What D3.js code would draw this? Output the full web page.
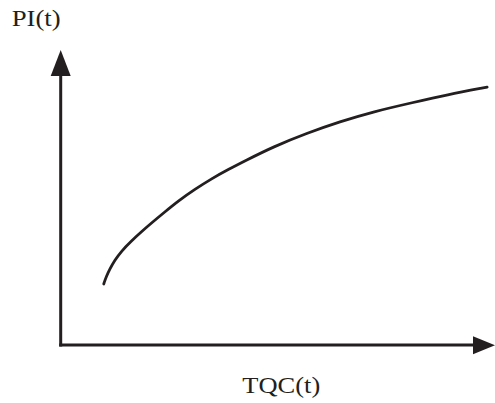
<!DOCTYPE html>
<html>
<head>
<meta charset="utf-8">
<script src="https://cdn.jsdelivr.net/npm/d3@7"></script>
<style>
  html, body { margin: 0; padding: 0; background: #fff; }
  svg { display: block; }
</style>
</head>
<body>
<svg id="chart" width="495" height="403"></svg>
<script>
// Curve values (arbitrary units)
const xValues = [10.0, 10.6, 11.4, 12.55, 14.1, 16.4, 18.7, 21.05, 24.2, 27.3, 31.2, 35.1, 38.95, 42.8, 49.4, 57.2, 64.9, 72.65, 81.9, 89.7, 99.1];
const yValues = [20.7, 23.2, 25.7, 28.7, 31.8, 35.2, 38.3, 41.3, 45.1, 48.8, 52.8, 56.4, 59.5, 62.4, 67.2, 71.8, 75.7, 79.1, 82.2, 84.8, 87.4];
const xLabel = "TQC(t)";
const yLabel = "PI(t)";

const ink = "#231f20";
const svg = d3.select("#chart");

const x = d3.scaleLinear().domain([0, 100]).range([60.7, 491]);
const y = d3.scaleLinear().domain([0, 100]).range([345, 50]);

const data = xValues.map((v, i) => ({ x: v, y: yValues[i] }));

// Axes
const axisW = 3;
svg.append("line")
  .attr("x1", x(0)).attr("y1", y(0) + axisW / 2)
  .attr("x2", x(0)).attr("y2", 74)
  .attr("stroke", ink).attr("stroke-width", axisW);
svg.append("line")
  .attr("x1", x(0) - axisW / 2).attr("y1", y(0))
  .attr("x2", 475).attr("y2", y(0))
  .attr("stroke", ink).attr("stroke-width", axisW);

// Arrowheads
svg.append("path")
  .attr("d", `M${x(0)},50 L${x(0) - 10},76 L${x(0) + 10},76 Z`)
  .attr("fill", ink);
svg.append("path")
  .attr("d", `M473,${y(0) - 8.8} L495,${y(0) + 0.3} L473,${y(0) + 9.2} Z`)
  .attr("fill", ink);

// Curve
const line = d3.line()
  .x(d => x(d.x))
  .y(d => y(d.y))
  .curve(d3.curveBasis);

svg.append("path")
  .datum(data)
  .attr("d", line)
  .attr("fill", "none")
  .attr("stroke", ink)
  .attr("stroke-width", 2.8)
  .attr("stroke-linecap", "round");

// Labels
svg.append("text")
  .attr("x", 11.7).attr("y", 26)
  .attr("font-family", "'Liberation Serif', 'Times New Roman', serif")
  .attr("font-size", 24)
  .attr("fill", ink)
  .attr("textLength", 49)
  .attr("lengthAdjust", "spacingAndGlyphs")
  .text(yLabel);

svg.append("text")
  .attr("x", 242.3).attr("y", 393.3)
  .attr("font-family", "'Liberation Serif', 'Times New Roman', serif")
  .attr("font-size", 24)
  .attr("fill", ink)
  .attr("textLength", 78)
  .attr("lengthAdjust", "spacingAndGlyphs")
  .text(xLabel);
</script>
</body>
</html>
